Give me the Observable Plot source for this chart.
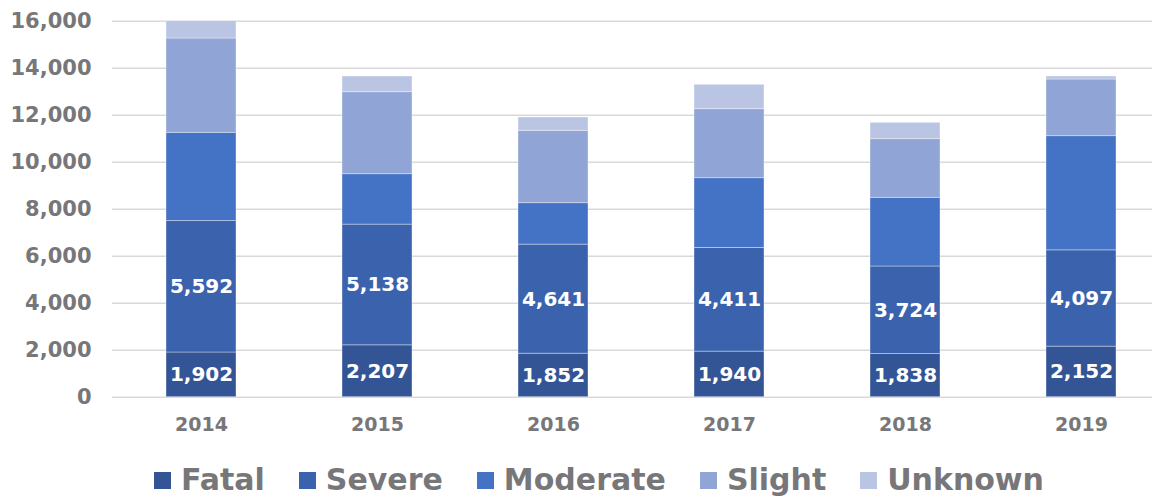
<!DOCTYPE html>
<html>
<head>
<meta charset="utf-8">
<script src="https://cdn.jsdelivr.net/npm/d3@7"></script>
<script src="https://cdn.jsdelivr.net/npm/@observablehq/plot@0.6"></script>
<style>
  html, body { margin: 0; padding: 0; background: #fff; }
  body { width: 1152px; height: 499px; overflow: hidden; font-family: "DejaVu Sans", sans-serif; }
  #legend { display: flex; align-items: center; height: 36px; margin-top: 22px; padding-left: 154px; }
  .item { display: flex; align-items: center; margin-right: 34px; }
  .sw { width: 17px; height: 17px; margin-right: 10px; }
  .lab { font-size: 30px; font-weight: bold; color: #77777a; line-height: 36px; }
</style>
</head>
<body>
<div id="chart"></div>
<div id="legend"></div>
<script>
const years = ["2014", "2015", "2016", "2017", "2018", "2019"];
const categories = ["Fatal", "Severe", "Moderate", "Slight", "Unknown"];
const fatal    = [1902, 2207, 1852, 1940, 1838, 2152];
const severe   = [5592, 5138, 4641, 4411, 3724, 4097];
const moderate = [3757, 2144, 1762, 2968, 2923, 4857];
const slight   = [4013, 3490, 3081, 2936, 2494, 2413];
const unknown  = [736, 668, 566, 1039, 697, 128];
const yTicks = [0, 2000, 4000, 6000, 8000, 10000, 12000, 14000, 16000];
const labelled = ["Fatal", "Severe"];
const colors = ["#335595", "#3b63ad", "#4472c4", "#90a5d5", "#b9c5e3"];

const series = [fatal, severe, moderate, slight, unknown];
const data = [];
years.forEach((yr, i) => {
  categories.forEach((c, j) => data.push({year: yr, category: c, value: series[j][i]}));
});
const fmt = d3.format(",");
const gray = "#77777a";

const chart = Plot.plot({
  width: 1152,
  height: 440,
  marginLeft: 112,
  marginRight: 0,
  marginTop: 20.7,
  marginBottom: 43.3,
  style: {fontFamily: "DejaVu Sans, sans-serif", background: "#fff"},
  x: {type: "band", domain: years, range: [112, 1171], paddingInner: 0.6, paddingOuter: 0.3, label: null},
  y: {domain: [0, 16000], label: null},
  color: {domain: categories, range: colors},
  marks: [
    Plot.ruleY(yTicks, {stroke: "#d9d9d9", strokeWidth: 1.5}),
    Plot.barY(data, Plot.stackY({x: "year", y: "value", fill: "category", stroke: "#ffffff", strokeOpacity: 0.45, strokeWidth: 0.8})),
    Plot.text(data.filter(d => labelled.includes(d.category)), Plot.stackY({
      x: "year", y: "value", z: "category", text: d => fmt(d.value),
      fill: "white", fontSize: 20, fontWeight: "bold"
    })),
    Plot.axisY({ticks: yTicks, tickSize: 0, tickPadding: 21, tickFormat: fmt, fontSize: 21, fontWeight: "bold", color: gray, label: null}),
    Plot.axisX({tickSize: 0, tickPadding: 20, fontSize: 19, fontWeight: "bold", color: gray, label: null})
  ]
});
document.getElementById("chart").appendChild(chart);

const legend = document.getElementById("legend");
categories.forEach((c, i) => {
  const it = document.createElement("div");
  it.className = "item";
  const sw = document.createElement("div");
  sw.className = "sw";
  sw.style.background = colors[i];
  const lab = document.createElement("span");
  lab.className = "lab";
  lab.textContent = c;
  it.appendChild(sw); it.appendChild(lab);
  legend.appendChild(it);
});
</script>
</body>
</html>
